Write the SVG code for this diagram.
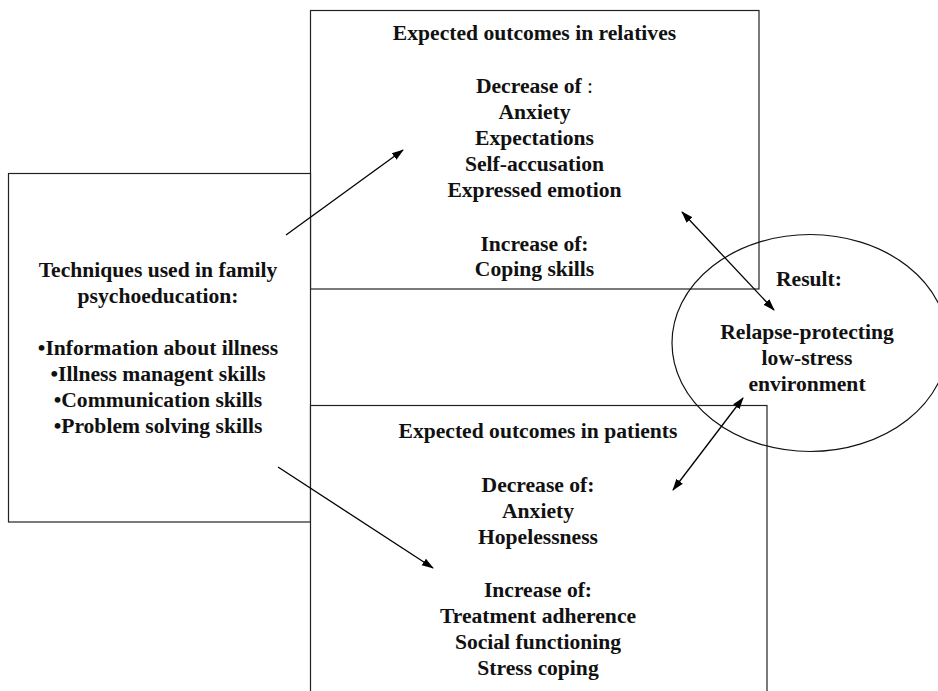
<svg xmlns="http://www.w3.org/2000/svg" width="938" height="691" viewBox="0 0 938 691">
<defs>
<style>
.box{fill:#fff;stroke:#222;stroke-width:1.2}
.t{font-family:"Liberation Serif","Times New Roman",serif;font-weight:bold;font-size:21.6px;fill:#111;text-anchor:middle}
.c{stroke:#000;stroke-width:1.3;fill:none}
</style>
<marker id="ah" markerUnits="userSpaceOnUse" markerWidth="12" markerHeight="10" refX="11" refY="4" orient="auto-start-reverse" viewBox="0 0 12 8">
<path d="M0,0 L12,4 L0,8 z" fill="#000"/>
</marker>
</defs>
<rect width="938" height="691" fill="#fff"/>
<g id="relatives">
<rect class="box" x="310.5" y="10.5" width="448.5" height="278.5"/>
<text class="t" x="534.5" y="40">Expected outcomes in relatives</text>
<text class="t" x="534.5" y="93">Decrease of <tspan font-weight="normal">:</tspan></text>
<text class="t" x="534.5" y="119">Anxiety</text>
<text class="t" x="534.5" y="145">Expectations</text>
<text class="t" x="534.5" y="171">Self-accusation</text>
<text class="t" x="534.5" y="197">Expressed emotion</text>
<text class="t" x="534.5" y="251">Increase of:</text>
<text class="t" x="534.5" y="276">Coping skills</text>
</g>
<g id="techniques">
<rect class="box" x="8.5" y="173.5" width="302" height="348.5"/>
<text class="t" x="158" y="277">Techniques used in family</text>
<text class="t" x="158" y="303">psychoeducation:</text>
<text class="t" x="158" y="355">•Information about illness</text>
<text class="t" x="158" y="381">•Illness managent skills</text>
<text class="t" x="158" y="407">•Communication skills</text>
<text class="t" x="158" y="433">•Problem solving skills</text>
</g>
<g id="patients">
<rect class="box" x="310.5" y="405.5" width="456.5" height="300"/>
<text class="t" x="538" y="438">Expected outcomes in patients</text>
<text class="t" x="538" y="492">Decrease of:</text>
<text class="t" x="538" y="518">Anxiety</text>
<text class="t" x="538" y="544">Hopelessness</text>
<text class="t" x="538" y="597">Increase of:</text>
<text class="t" x="538" y="623">Treatment adherence</text>
<text class="t" x="538" y="649">Social functioning</text>
<text class="t" x="538" y="675">Stress coping</text>
</g>
<g id="result">
<ellipse cx="810" cy="343" rx="138" ry="108.5" fill="none" stroke="#111" stroke-width="1.2"/>
<text class="t" x="809" y="286">Result:</text>
<text class="t" x="807" y="339">Relapse-protecting</text>
<text class="t" x="807" y="365">low-stress</text>
<text class="t" x="807" y="391">environment</text>
</g>
<g id="connectors">
<line class="c" x1="286" y1="235" x2="403" y2="150" marker-end="url(#ah)"/>
<line class="c" x1="278" y1="467" x2="433" y2="568" marker-end="url(#ah)"/>
<line class="c" x1="682" y1="212" x2="774" y2="310" marker-start="url(#ah)" marker-end="url(#ah)"/>
<line class="c" x1="673" y1="490" x2="743" y2="398" marker-start="url(#ah)" marker-end="url(#ah)"/>
</g>
</svg>
